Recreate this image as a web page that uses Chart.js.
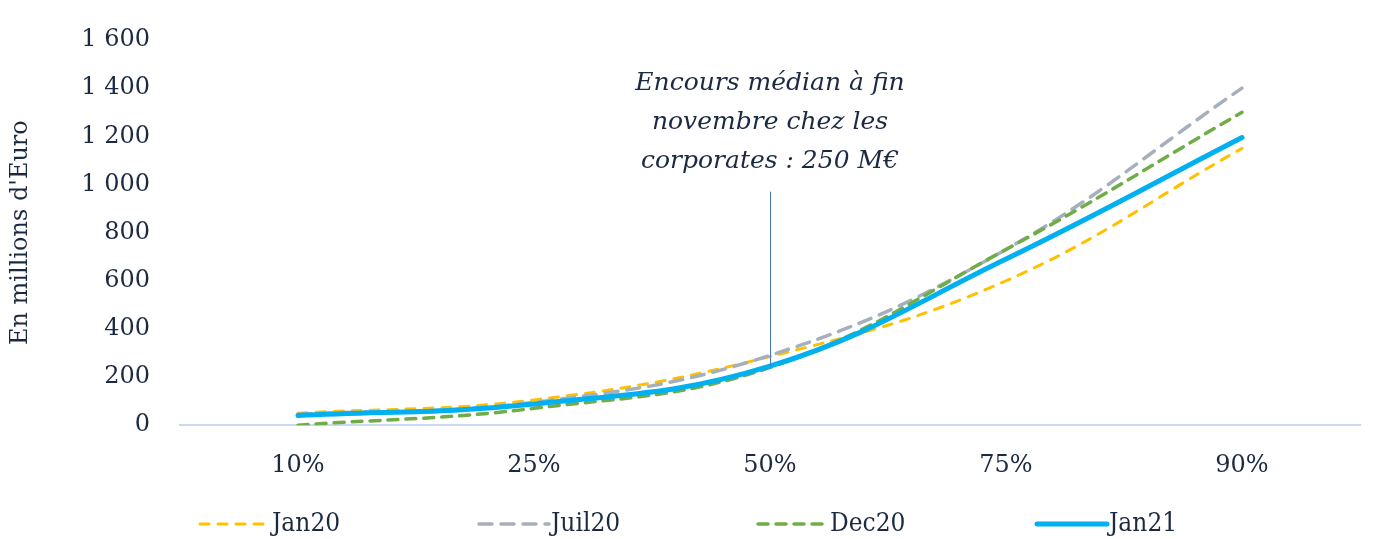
<!DOCTYPE html>
<html>
<head>
<meta charset="utf-8">
<script src="https://cdn.jsdelivr.net/npm/chart.js@4/dist/chart.umd.min.js"></script>
<style>
  html, body { margin: 0; padding: 0; background: #fff; }
  #wrap { width: 1381px; height: 539px; }
</style>
</head>
<body>
<div id="wrap"><canvas id="encoursChart"></canvas></div>
<script>
const categories = ['10%', '25%', '50%', '75%', '90%'];
const jan20 = [50, 105, 285, 600, 1150];
const juil20 = [45, 95, 290, 730, 1400];
const dec20 = [0, 70, 240, 730, 1300];
const jan21 = [40, 88, 245, 690, 1195];
const yTicks = [0, 200, 400, 600, 800, 1000, 1200, 1400, 1600];
const legendOrder = ['Jan20', 'Juil20', 'Dec20', 'Jan21'];

const annotationLines = ['Encours médian à fin', 'novembre chez les', 'corporates : 250 M€'];
const annotationFrom = 245;
const annotationTo = 970;

const textColor = '#1b2a41';
const serif = "'DejaVu Serif', serif";

// espace comme séparateur des milliers : "1 600"
function formatThousands(v) {
    return String(v).replace(/\B(?=(\d{3})+(?!\d))/g, ' ');
}

const annotationPlugin = {
    id: 'medianNote',
    afterDatasetsDraw(chart) {
        const x = chart.scales.x.getPixelForValue(2);
        const y = chart.scales.y;
        const ctx = chart.ctx;
        ctx.save();
        ctx.strokeStyle = '#4472c4';
        ctx.lineWidth = 1;
        ctx.beginPath();
        ctx.moveTo(x + 0.5, y.getPixelForValue(annotationTo));
        ctx.lineTo(x + 0.5, y.getPixelForValue(annotationFrom));
        ctx.stroke();

        ctx.fillStyle = textColor;
        ctx.font = "italic 25px 'DejaVu Serif', serif";
        ctx.textAlign = 'center';
        ctx.textBaseline = 'middle';
        const top = y.getPixelForValue(annotationTo);
        annotationLines.forEach((t, i) => {
            ctx.fillText(t, x, top - 108 + i * 39);
        });
        ctx.restore();
    }
};

// légende style Excel : traits pointillés, espacement régulier
const dashLegendPlugin = {
    id: 'dashLegend',
    afterDraw(chart) {
        const ctx = chart.ctx;
        const area = chart.chartArea;
        const y = chart.height - 15;
        const step = 279;
        ctx.save();
        legendOrder.forEach((name, i) => {
            const ds = chart.data.datasets.find(d => d.label === name);
            const x0 = area.left + 18 + i * step;
            ctx.strokeStyle = ds.borderColor;
            ctx.lineWidth = ds.borderWidth;
            ctx.lineCap = 'round';
            ctx.setLineDash(ds.borderDash || []);
            ctx.beginPath();
            ctx.moveTo(x0 + 2, y);
            ctx.lineTo(x0 + 72, y);
            ctx.stroke();
            ctx.setLineDash([]);
            ctx.fillStyle = textColor;
            ctx.font = "26px 'DejaVu Serif Condensed', 'DejaVu Serif', serif";
            ctx.textAlign = 'left';
            ctx.textBaseline = 'middle';
            ctx.fillText(name, x0 + 74, y);
        });
        ctx.restore();
    }
};

function createEncoursChart() {
    const ctx = document.getElementById('encoursChart');
    if (!ctx) return;

    new Chart(ctx, {
        type: 'line',
        data: {
            labels: categories,
            // ordre inversé pour que Jan21 soit dessiné au-dessus
            datasets: [
                {
                    label: 'Jan21',
                    data: jan21,
                    borderColor: '#00b0f0',
                    backgroundColor: '#00b0f0',
                    borderWidth: 5,
                    borderCapStyle: 'round',
                    tension: 0.4
                },
                {
                    label: 'Dec20',
                    data: dec20,
                    borderColor: '#70ad47',
                    backgroundColor: '#70ad47',
                    borderWidth: 3.5,
                    borderDash: [10, 8],
                    borderCapStyle: 'round',
                    tension: 0.4
                },
                {
                    label: 'Juil20',
                    data: juil20,
                    borderColor: '#a5b0bc',
                    backgroundColor: '#a5b0bc',
                    borderWidth: 3.5,
                    borderDash: [13, 9],
                    borderCapStyle: 'round',
                    tension: 0.4
                },
                {
                    label: 'Jan20',
                    data: jan20,
                    borderColor: '#ffc000',
                    backgroundColor: '#ffc000',
                    borderWidth: 3,
                    borderDash: [9, 9],
                    borderCapStyle: 'round',
                    tension: 0.4
                }
            ]
        },
        options: {
            responsive: true,
            maintainAspectRatio: false,
            animation: false,
            elements: { point: { radius: 0 } },
            layout: { padding: { top: 40, right: 21, bottom: 33, left: 0 } },
            plugins: {
                legend: { display: false },
                tooltip: { enabled: false }
            },
            scales: {
                x: {
                    offset: true,
                    grid: { display: false, drawTicks: false },
                    border: { color: '#c9d9ef', width: 2 },
                    ticks: {
                        color: textColor,
                        padding: 26,
                        font: { family: serif, size: 24 }
                    }
                },
                y: {
                    min: 0,
                    max: 1600,
                    afterBuildTicks(scale) {
                        scale.ticks = yTicks.map(v => ({ value: v }));
                    },
                    afterFit(scale) {
                        scale.width = 180;
                        scale.paddingTop = 0;
                    },
                    grid: { display: false, drawTicks: false },
                    border: { display: false },
                    ticks: {
                        autoSkip: false,
                        color: textColor,
                        padding: 30,
                        font: { family: serif, size: 24 },
                        callback: v => formatThousands(v)
                    },
                    title: {
                        display: true,
                        text: "En millions d'Euro",
                        color: textColor,
                        font: { family: serif, size: 24 },
                        padding: { top: 6, bottom: 0 }
                    }
                }
            }
        },
        plugins: [annotationPlugin, dashLegendPlugin]
    });
}

document.addEventListener('DOMContentLoaded', () => {
    createEncoursChart();
});
</script>
</body>
</html>
